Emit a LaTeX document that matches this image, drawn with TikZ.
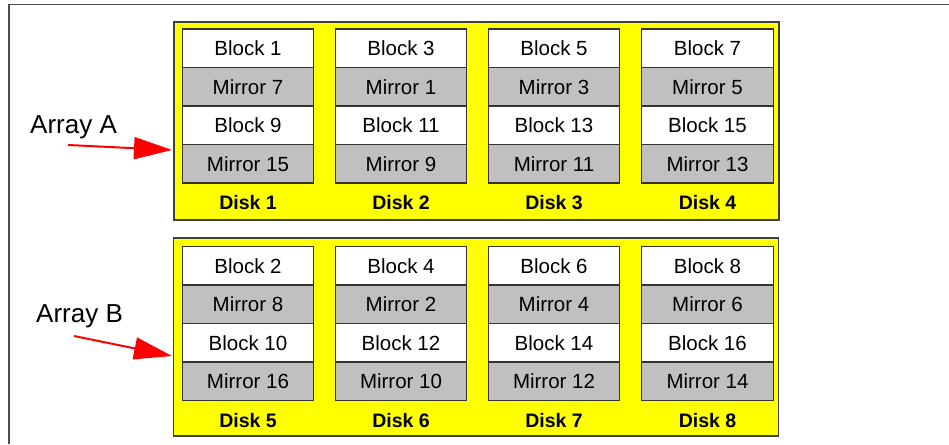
\documentclass[tikz,border=0pt]{standalone}
\usepackage{fontspec}
\setmainfont{Liberation Sans}
\usetikzlibrary{arrows.meta}
\definecolor{mirgray}{HTML}{C0C0C0}
\definecolor{arrayyellow}{HTML}{FFFF00}

\begin{document}
\begin{tikzpicture}[
    x = 1pt, y = -1pt,
    cell/.style = {draw=black!80, line width=1.2pt, minimum width=131.5pt, minimum height=38.5pt, inner sep=0pt, font=\fontsize{20.5}{24}\selectfont},
    blk/.style = {cell, fill=white},
    mir/.style = {cell, fill=mirgray},
    disk/.style = {font=\bfseries\fontsize{19.5}{23}\selectfont},
    diskarray/.style = {draw=black!75, line width=1.2pt, fill=arrayyellow, minimum width=605pt, minimum height=198pt, inner sep=0pt},
    pointer/.style = {red, line width=2pt, -{Triangle[length=38pt, width=22pt]}}
    ]
    \useasboundingbox (0,0) rectangle (949,444);
    \draw[black!70, line width=1.5pt] (9,444) -- (9,4.3) -- (949,4.3);
    % the two arrays
    \node[diskarray] (A) at (476.5,121) {};
    \node[diskarray] (B) at (476,337) {};
    % Array A
    \node[blk] (b1) at (248,48.25) {Block 1};
    \node[mir] (m7) at (248,86.75) {Mirror 7};
    \node[blk] (b9) at (248,125.25) {Block 9};
    \node[mir] (m15) at (248,163.75) {Mirror 15};
    \node[blk] (b3) at (401,48.25) {Block 3};
    \node[mir] (m1) at (401,86.75) {Mirror 1};
    \node[blk] (b11) at (401,125.25) {Block 11};
    \node[mir] (m9) at (401,163.75) {Mirror 9};
    \node[blk] (b5) at (554,48.25) {Block 5};
    \node[mir] (m3) at (554,86.75) {Mirror 3};
    \node[blk] (b13) at (554,125.25) {Block 13};
    \node[mir] (m11) at (554,163.75) {Mirror 11};
    \node[blk] (b7) at (707.5,48.25) {Block 7};
    \node[mir] (m5) at (707.5,86.75) {Mirror 5};
    \node[blk] (b15) at (707.5,125.25) {Block 15};
    \node[mir] (m13) at (707.5,163.75) {Mirror 13};
    % Array B
    \node[blk] (b2) at (248,265.75) {Block 2};
    \node[mir] (m8) at (248,304.25) {Mirror 8};
    \node[blk] (b10) at (248,342.75) {Block 10};
    \node[mir] (m16) at (248,381.25) {Mirror 16};
    \node[blk] (b4) at (401,265.75) {Block 4};
    \node[mir] (m2) at (401,304.25) {Mirror 2};
    \node[blk] (b12) at (401,342.75) {Block 12};
    \node[mir] (m10) at (401,381.25) {Mirror 10};
    \node[blk] (b6) at (554,265.75) {Block 6};
    \node[mir] (m4) at (554,304.25) {Mirror 4};
    \node[blk] (b14) at (554,342.75) {Block 14};
    \node[mir] (m12) at (554,381.25) {Mirror 12};
    \node[blk] (b8) at (707.5,265.75) {Block 8};
    \node[mir] (m6) at (707.5,304.25) {Mirror 6};
    \node[blk] (b16) at (707.5,342.75) {Block 16};
    \node[mir] (m14) at (707.5,381.25) {Mirror 14};
    % disk labels
    \begin{scope}[nodes=disk]
        \node (d1) at (248,203) {Disk 1};
        \node (d2) at (401,203) {Disk 2};
        \node (d3) at (554,203) {Disk 3};
        \node (d4) at (707.5,203) {Disk 4};
        \node (d5) at (248,421) {Disk 5};
        \node (d6) at (401,421) {Disk 6};
        \node (d7) at (554,421) {Disk 7};
        \node (d8) at (707.5,421) {Disk 8};
    \end{scope}
    % labels and pointers
    \node[anchor=base west, inner sep=0pt, font=\fontsize{26}{30}\selectfont] (la) at (30,133) {Array A};
    \node[anchor=base west, inner sep=0pt, font=\fontsize{26}{30}\selectfont] (lb) at (36,322) {Array B};
    \coordinate (ta) at (68,145);
    \coordinate (ha) at (172,150);
    \coordinate (tb) at (74,336);
    \coordinate (hb) at (172,356);
    \draw[pointer] (ta) -- (ha);
    \draw[pointer] (tb) -- (hb);
\end{tikzpicture}
\end{document}
